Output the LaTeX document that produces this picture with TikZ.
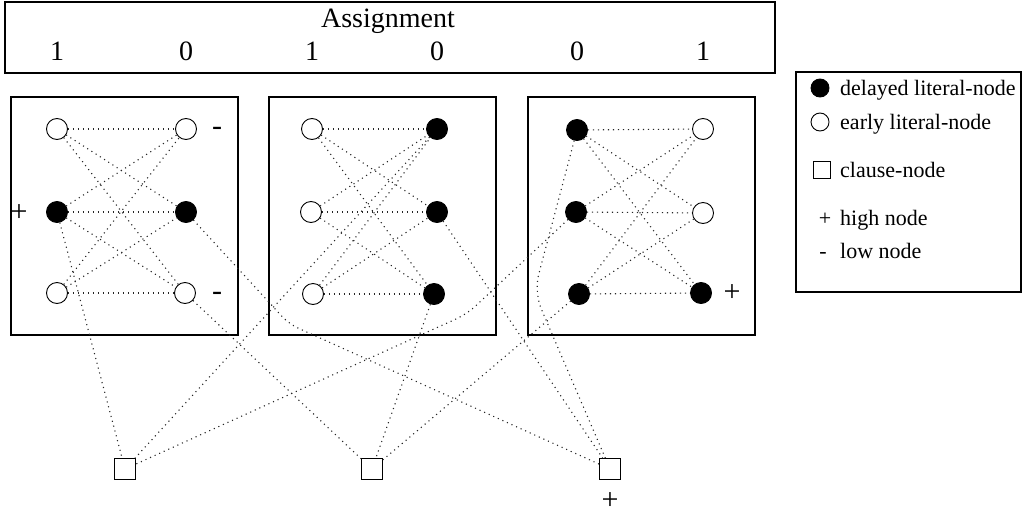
\documentclass[tikz,border=0pt]{standalone}
\usepackage{fontspec}
\setmainfont{Liberation Serif}
\begin{document}
\begin{tikzpicture}[x=1pt,y=-1pt,
    lit/.style={circle,draw,line width=0.9pt,minimum size=21pt,inner sep=0pt},
    late/.style={lit,fill=black},
    clause/.style={rectangle,draw,line width=0.9pt,minimum size=21pt,inner sep=0pt},
    link/.style={line width=1.1pt,dash pattern=on 1.1pt off 3.9pt,black!85},
    big/.style={font=\fontsize{28}{30}\selectfont,inner sep=0pt,anchor=base},
    sign/.style={font=\fontsize{30}{32}\selectfont,inner sep=0pt},
    legend/.style={font=\fontsize{22}{24}\selectfont,inner sep=0pt,anchor=base west}]
  \useasboundingbox (0,0) rectangle (1024,519);

  \draw[line width=1.2pt] (5,2) rectangle (775,73);
  \node[big] (title) at (388,28) {Assignment};
  \node[big] (v11) at (57,60) {1};
  \node[big] (v12) at (186,60) {0};
  \node[big] (v21) at (312,60) {1};
  \node[big] (v22) at (437,60) {0};
  \node[big] (v31) at (577,60) {0};
  \node[big] (v32) at (703,60) {1};

  \draw[line width=1.2pt] (11,97) rectangle (238,335);
  \draw[line width=1.2pt] (269,97) rectangle (496,335);
  \draw[line width=1.2pt] (528,97) rectangle (755,335);

  \node[lit]  (l11) at (57,129) {};
  \node[late] (l12) at (57,212) {};
  \node[lit]  (l13) at (57,293) {};
  \node[lit]  (r11) at (186,129) {};
  \node[late] (r12) at (186,212) {};
  \node[lit]  (r13) at (185,293) {};

  \node[lit]  (l21) at (312,129) {};
  \node[lit]  (l22) at (311,212) {};
  \node[lit]  (l23) at (313,294) {};
  \node[late] (r21) at (437,129) {};
  \node[late] (r22) at (437,212) {};
  \node[late] (r23) at (434,294) {};

  \node[late] (l31) at (577,130) {};
  \node[late] (l32) at (576,212) {};
  \node[late] (l33) at (579,294) {};
  \node[lit]  (r31) at (703,129) {};
  \node[lit]  (r32) at (703,213) {};
  \node[late] (r33) at (701,293) {};

  \node[sign] (m11) at (217,131) {-};
  \node[sign] (p12) at (19,213) {+};
  \node[sign] (m13) at (217,296) {-};
  \node[sign] (p33) at (732,293) {+};

  \node[clause] (c1) at (125,469) {};
  \node[clause] (c2) at (372,469) {};
  \node[clause] (c3) at (610,469) {};
  \node[sign] (pc3) at (610,501) {+};

  \foreach \b in {1,2,3}
    \foreach \i in {1,2,3}
      \foreach \j in {1,2,3}
        \draw[link] (l\b\i) -- (r\b\j);

  \coordinate (bend1) at (289,324);
  \coordinate (bend2) at (467,314);
  \coordinate (bend3) at (534,292);
  \draw[link] (l12) -- (c1);
  \draw[link] (r21) -- (c1);
  \draw[link,rounded corners=12pt] (l32) -- (bend2) -- (c1);
  \draw[link] (r13) -- (c2);
  \draw[link] (r23) -- (c2);
  \draw[link] (l33) -- (c2);
  \draw[link,rounded corners=10pt] (r12) -- (bend1) -- (c3);
  \draw[link] (r22) -- (c3);
  \draw[link,rounded corners=18pt] (l31) -- (bend3) -- (c3);

  \draw[line width=1.2pt] (796,72) rectangle (1021,292);
  \node[late,minimum size=18pt] (k1) at (820,88) {};
  \node[lit,minimum size=18pt] (k2) at (820,122) {};
  \node[clause,minimum size=17pt] (k3) at (822,170) {};
  \node[legend] (t1) at (840,95) {delayed literal-node};
  \node[legend] (t2) at (840,129) {early literal-node};
  \node[legend] (t3) at (840,177) {clause-node};
  \node[legend,anchor=base] (k4) at (825,225) {+};
  \node[legend] (t4) at (840,225) {high node};
  \node[legend,anchor=base] (k5) at (823,258) {-};
  \node[legend] (t5) at (840,258) {low node};
\end{tikzpicture}
\end{document}
